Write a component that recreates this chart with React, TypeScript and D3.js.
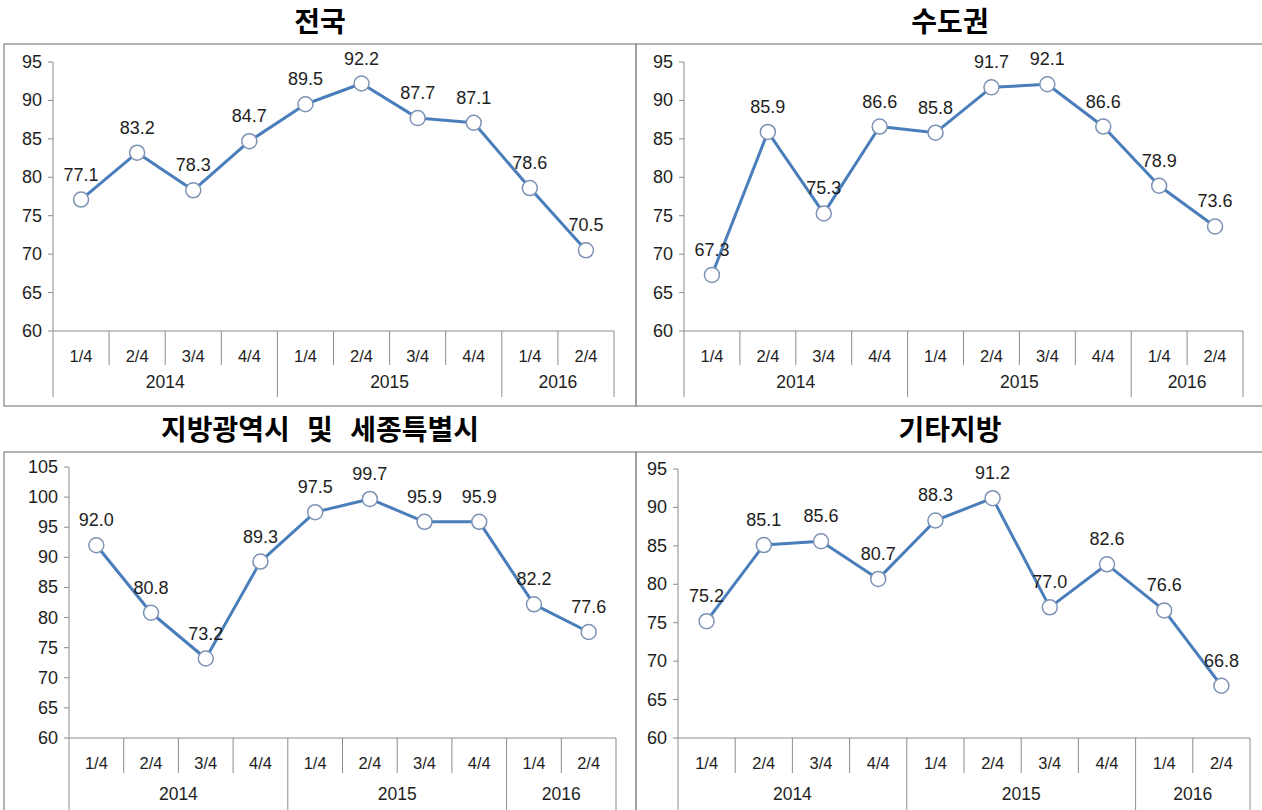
import React from "react";
import * as d3 from "d3";

const quarters = ["1/4", "2/4", "3/4", "4/4", "1/4", "2/4", "3/4", "4/4", "1/4", "2/4"];
const years = ["2014", "2015", "2016"];
const yearSpans = [4, 4, 2];

const national = [77.1, 83.2, 78.3, 84.7, 89.5, 92.2, 87.7, 87.1, 78.6, 70.5];
const capital = [67.3, 85.9, 75.3, 86.6, 85.8, 91.7, 92.1, 86.6, 78.9, 73.6];
const metro = [92.0, 80.8, 73.2, 89.3, 97.5, 99.7, 95.9, 95.9, 82.2, 77.6];
const others = [75.2, 85.1, 85.6, 80.7, 88.3, 91.2, 77.0, 82.6, 76.6, 66.8];

const ticksA = [60, 65, 70, 75, 80, 85, 90, 95];
const ticksB = [60, 65, 70, 75, 80, 85, 90, 95, 100, 105];

const LINE = "#4a7ebb";
const AXIS = "#8c8c8c";
const TEXT = "#1e1e1e";
const FONT = "'Liberation Sans', Arial, sans-serif";

type PanelProps = {
  title: string;
  values: number[];
  ticks: number[];
  box: [number, number, number, number];
  left: number;
  right: number;
  top: number;
  bottom: number;
  titleY: number;
  quarterH: number;
  yearH: number;
  titleSpacing?: number;
};

const Panel = ({ title, values, ticks, box, left, right, top, bottom, titleY, quarterH, yearH, titleSpacing }: PanelProps) => {
  const x = d3.scaleBand<number>().domain(d3.range(quarters.length)).range([left, right]);
  const y = d3
    .scaleLinear()
    .domain([d3.min(ticks) as number, d3.max(ticks) as number])
    .range([bottom, top]);
  const cx = (i: number) => (x(i) as number) + x.bandwidth() / 2;
  const line = d3
    .line<number>()
    .x((d, i) => cx(i))
    .y((d) => y(d));

  const yearStarts = yearSpans.map((s, i) => d3.sum(yearSpans.slice(0, i)));
  const isYearEdge = (i: number) => yearStarts.includes(i) || i === quarters.length;
  const edgeX = (i: number) => left + i * x.bandwidth();

  return (
    <g>
      <rect x={box[0]} y={box[1]} width={box[2] - box[0]} height={box[3] - box[1]} fill="none" stroke="#9a9a9a" strokeWidth={1.5} />
      <text
        x={(box[0] + box[2]) / 2}
        y={titleY}
        textAnchor="middle"
        fontFamily="'Noto Sans CJK KR', sans-serif"
        fontWeight="bold"
        fontSize={28}
        fill="#000"
        style={{ wordSpacing: titleSpacing ?? 0 }}
      >
        {title}
      </text>

      <line x1={left} x2={left} y1={top} y2={bottom + quarterH + yearH} stroke={AXIS} />
      {ticks.map((t) => (
        <g key={t}>
          <line x1={left - 5} x2={left} y1={y(t)} y2={y(t)} stroke={AXIS} />
          <text x={left - 11} y={y(t) + 6} textAnchor="end" fontFamily={FONT} fontSize={18} fill={TEXT}>
            {t}
          </text>
        </g>
      ))}
      <line x1={left} x2={right} y1={bottom} y2={bottom} stroke={AXIS} />
      {d3.range(1, quarters.length + 1).map((i) => (
        <line
          key={i}
          x1={edgeX(i)}
          x2={edgeX(i)}
          y1={bottom}
          y2={bottom + quarterH + (isYearEdge(i) ? yearH : 0)}
          stroke={AXIS}
        />
      ))}
      {quarters.map((q, i) => (
        <text key={i} x={cx(i)} y={bottom + 31} textAnchor="middle" fontFamily={FONT} fontSize={16.5} fill={TEXT}>
          {q}
        </text>
      ))}
      {years.map((yr, i) => (
        <text
          key={yr}
          x={edgeX(yearStarts[i]) + (yearSpans[i] * x.bandwidth()) / 2}
          y={bottom + quarterH + yearH / 2 + 7}
          textAnchor="middle"
          fontFamily={FONT}
          fontSize={17.5}
          fill={TEXT}
        >
          {yr}
        </text>
      ))}

      <path d={line(values) as string} fill="none" stroke={LINE} strokeWidth={3} strokeLinejoin="round" />
      {values.map((v, i) => (
        <circle key={i} cx={cx(i)} cy={y(v)} r={7.5} fill="#fff" stroke="#7d93b5" strokeWidth={1.5} />
      ))}
      {values.map((v, i) => (
        <text key={i} x={cx(i)} y={y(v) - 19} textAnchor="middle" fontFamily={FONT} fontSize={18} fill={TEXT}>
          {v.toFixed(1)}
        </text>
      ))}
    </g>
  );
};

export default function App() {
  return (
    <svg width={1262} height={810} style={{ position: "absolute", left: 0, top: 0, background: "#fff" }}>
      <Panel title="전국" values={national} ticks={ticksA} box={[4, 44, 636, 406]} left={53} right={614} top={62} bottom={331} titleY={32} quarterH={34} yearH={32} />
      <Panel title="수도권" values={capital} ticks={ticksA} box={[636, 44, 1264, 406]} left={684} right={1243} top={62} bottom={331} titleY={32} quarterH={34} yearH={32} />
      <Panel
        title="지방광역시 및 세종특별시"
        values={metro}
        ticks={ticksB}
        box={[4, 452, 636, 820]}
        left={69}
        right={616}
        top={467}
        bottom={738}
        titleY={440}
        quarterH={35}
        yearH={40}
        titleSpacing={11}
      />
      <Panel title="기타지방" values={others} ticks={ticksA} box={[636, 452, 1264, 820]} left={678} right={1250} top={469} bottom={738} titleY={440} quarterH={35} yearH={40} />
    </svg>
  );
}
